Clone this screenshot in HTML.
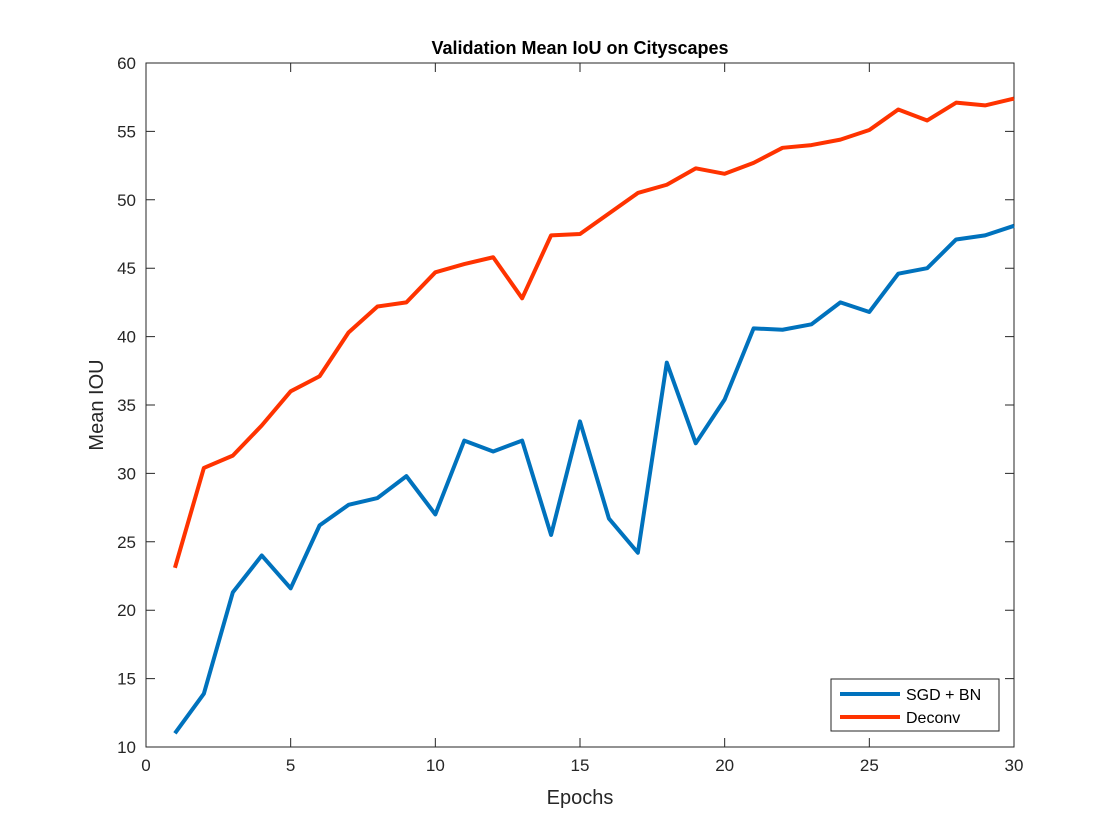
<!DOCTYPE html>
<html><head><meta charset="utf-8"><style>
body{margin:0;background:#fff;}
svg{display:block;font-family:"Liberation Sans",Arial,sans-serif;}
</style></head><body>
<svg id="chart" width="1120" height="840"></svg>
<script>
const epochs=[1,2,3,4,5,6,7,8,9,10,11,12,13,14,15,16,17,18,19,20,21,22,23,24,25,26,27,28,29,30];
const sgdValues=[11.0,13.9,21.3,24.0,21.6,26.2,27.7,28.2,29.8,27.0,32.4,31.6,32.4,25.5,33.8,26.7,24.2,38.1,32.2,35.4,40.6,40.5,40.9,42.5,41.8,44.6,45.0,47.1,47.4,48.1];
const deconvValues=[23.1,30.4,31.3,33.5,36.0,37.1,40.3,42.2,42.5,44.7,45.3,45.8,42.8,47.4,47.5,49.0,50.5,51.1,52.3,51.9,52.7,53.8,54.0,54.4,55.1,56.6,55.8,57.1,56.9,57.4];
const xTicks=[0,5,10,15,20,25,30];
const yTicks=[10,15,20,25,30,35,40,45,50,55,60];
const seriesNames=["SGD + BN","Deconv"];

const svg=document.getElementById('chart');
const NS='http://www.w3.org/2000/svg';
const L=146,R=1014,T=63,B=747;
const xs=v=>L+(v-0)/(30-0)*(R-L);
const ys=v=>B-(v-10)/(60-10)*(B-T);
function mk(tag,attrs,parent){const e=document.createElementNS(NS,tag);for(const k in attrs)e.setAttribute(k,attrs[k]);(parent||svg).appendChild(e);return e;}

const box=mk('rect',{x:L,y:T,width:R-L,height:B-T,fill:'#fff',stroke:'#262626','stroke-width':1});



xTicks.forEach(t=>{
  const x=xs(t);
  const tk=mk('path',{d:`M${x},${B}V${B-9}M${x},${T}V${T+9}`,stroke:'#262626','stroke-width':1});
  
  
  const lb=mk('text',{x:x,y:B+24,'text-anchor':'middle','font-size':17,fill:'#262626'});
  lb.textContent=t;
  
  
});
yTicks.forEach(t=>{
  const y=ys(t);
  const tk=mk('path',{d:`M${L},${y}H${L+9}M${R},${y}H${R-9}`,stroke:'#262626','stroke-width':1});
  
  
  const lb=mk('text',{x:L-10,y:y+6,'text-anchor':'end','font-size':17,fill:'#262626'});
  lb.textContent=t;
  
  
});

const title=mk('text',{x:(L+R)/2,y:54,'text-anchor':'middle','font-size':18,'font-weight':'bold',fill:'#000'});
title.textContent='Validation Mean IoU on Cityscapes';


const xt=mk('text',{x:(L+R)/2,y:804,'text-anchor':'middle','font-size':20,fill:'#262626'});
xt.textContent='Epochs';


const yt=mk('text',{x:0,y:0,'text-anchor':'middle','font-size':20,fill:'#262626',transform:`translate(103,${(T+B)/2}) rotate(-90)`});
yt.textContent='Mean IOU';



function line(vals,color,name){
  const d=vals.map((v,i)=>(i?'L':'M')+xs(epochs[i])+','+ys(v)).join('');
  const p=mk('path',{d:d,fill:'none',stroke:color,'stroke-width':4,'stroke-linejoin':'round'});
  
  
}
line(sgdValues,'#0072BD','sgd-bn-line');
line(deconvValues,'#FF3300','deconv-line');

const lg=mk('g',{});


mk('rect',{x:831,y:679,width:168,height:52,fill:'#fff',stroke:'#262626','stroke-width':1},lg);
const colors=['#0072BD','#FF3300'];
seriesNames.forEach((n,i)=>{
  const y=694+i*23;
  const ln=mk('line',{x1:840,x2:900,y1:y,y2:y,stroke:colors[i],'stroke-width':4},lg);
  
  
  const tx=mk('text',{x:906,y:y+6,'font-size':16,fill:'#000'},lg);
  tx.textContent=n;
  
  
});
</script>
</body></html>
